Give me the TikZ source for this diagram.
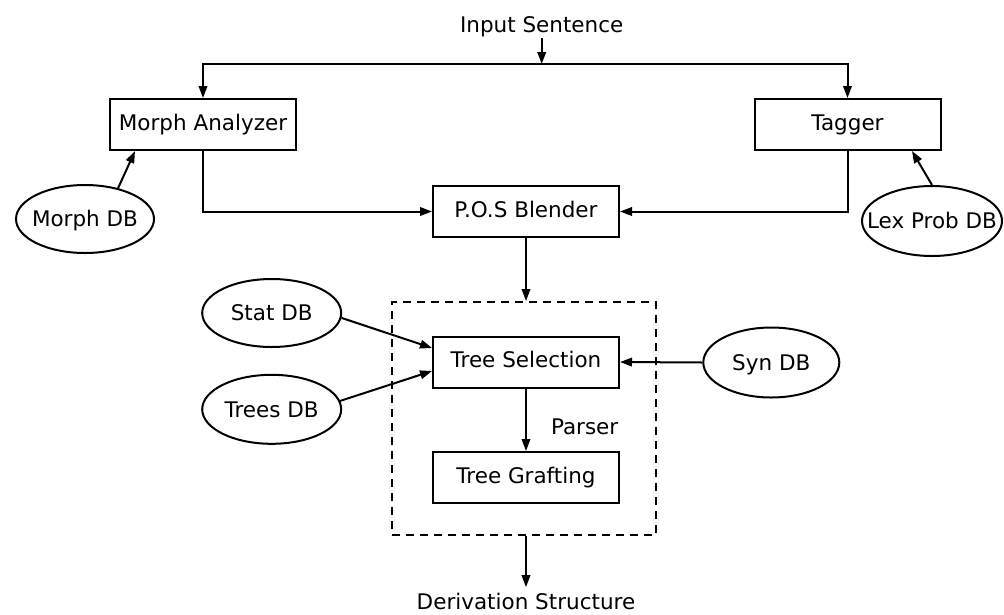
\documentclass[tikz,border=0pt]{standalone}
\usepackage{fontspec}
\setmainfont{DejaVu Sans}
\usetikzlibrary{arrows.meta,shapes.geometric,calc}
\begin{document}
\begin{tikzpicture}[
  x=1pt, y=-1pt,
  font=\fontsize{21.5}{26}\selectfont,
  every path/.style={line width=2pt},
  arr/.style={line width=2pt, -{Triangle[length=12pt,width=8.5pt]}},
  procbox/.style={draw, rectangle, line width=2pt, minimum width=186pt,
                  minimum height=51pt, inner sep=0pt,
                  text height=15.7pt, text depth=4pt},
  dbnode/.style={draw, ellipse, line width=2pt, inner sep=0pt,
                 text height=15.7pt, text depth=0pt},
  plainlabel/.style={inner sep=0pt},
]
\useasboundingbox (0,0) rectangle (1004,614);

% input and output labels
\node[plainlabel, anchor=base] (inp) at (541.7,32.7) {Input Sentence};
\node[plainlabel, anchor=base] (deriv) at (526,609.5) {Derivation Structure};
\coordinate (split) at (541.7,64);

% processing boxes
\node[procbox] (ma)  at (203,124.5)   {Morph Analyzer};
\node[procbox] (tag) at (847.5,124.5) {Tagger};
\node[procbox] (pos) at (526,211.5)   {P.O.S Blender};
\node[procbox] (ts)  at (526,362)     {Tree Selection};
\node[procbox] (tg)  at (526,477.5)   {Tree Grafting};

% parser frame
\node[draw, dash pattern=on 8pt off 6pt, line width=2pt, rectangle,
      minimum width=264pt, minimum height=233pt, inner sep=0pt]
      (parserbox) at (524,418.5) {};
\node[plainlabel, anchor=base west] (parserlbl) at (550,434.8) {Parser};

% databases (text boxes of zero width so the ellipse keeps its given size)
\node[dbnode, minimum width=138pt, minimum height=68pt] (mdb)   at (85,219)      {\makebox[0pt]{Morph DB}};
\node[dbnode, minimum width=140pt, minimum height=70pt] (lex)   at (932,221)     {\makebox[0pt]{Lex Prob DB}};
\node[dbnode, minimum width=139pt, minimum height=68pt] (stat)  at (271.7,313)   {\makebox[0pt]{Stat DB}};
\node[dbnode, minimum width=139pt, minimum height=69pt] (trees) at (271.7,409.3) {\makebox[0pt]{Trees DB}};
\node[dbnode, minimum width=136pt, minimum height=70pt] (syn)   at (771.3,362.5) {\makebox[0pt]{Syn DB}};

% connectors
\draw[arr] (inp.south) -- (split);
\draw[arr] (split) -| (ma.north);
\draw[arr] (split) -| (tag.north);
\draw[arr] (ma.south) |- (pos.west);
\draw[arr] (tag.south) |- (pos.east);
\draw[arr] (mdb.43) -- ([xshift=-68pt]ma.south);
\draw[arr] (lex.north) -- ([xshift=64.5pt]tag.south);
\draw[arr] (pos.south) -- (pos.south |- parserbox.north);
\draw[arr] (stat.-4) -- ([yshift=14pt]ts.west);
\draw[arr] (trees.7) -- ([yshift=-9pt]ts.west);
\draw[arr] (syn.west) -- (ts.east);
\draw[arr] (ts.south) -- (tg.north);
\draw[arr] (deriv.north |- parserbox.south) -- ([yshift=5pt]deriv.north);
\end{tikzpicture}
\end{document}
